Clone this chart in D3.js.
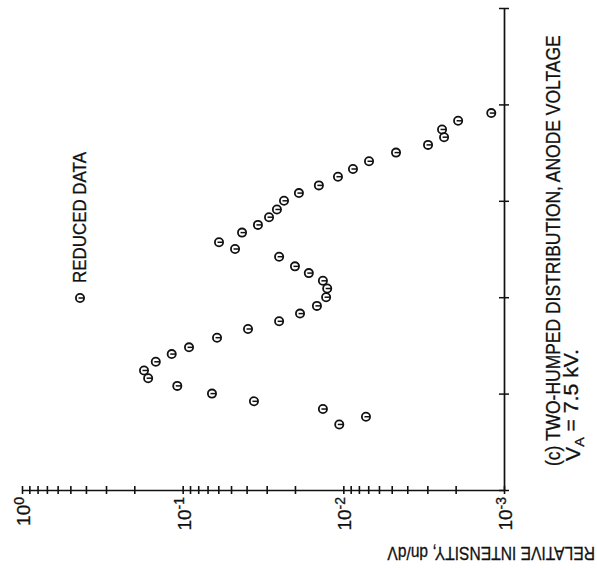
<!DOCTYPE html>
<html>
<head>
<meta charset="utf-8">
<script src="https://cdn.jsdelivr.net/npm/d3@7"></script>
<style>
  html, body { margin: 0; padding: 0; background: #fff; }
  svg { display: block; }
  text { font-family: "Liberation Sans", Arial, sans-serif; fill: #111; stroke: #111; stroke-width: 0.3px; }
</style>
</head>
<body>
<svg id="chart" width="597" height="570"></svg>
<script>
// ---- data ----
// relative intensity dn/dV (log axis) and anode-voltage axis position (unlabelled axis, tick units)
const intensity = [
  1.20e-3, 1.93e-3, 2.43e-3, 2.36e-3, 2.97e-3, 4.70e-3, 6.92e-3, 8.71e-3, 1.08e-2, 1.42e-2,
  1.89e-2, 2.34e-2, 2.59e-2, 2.90e-2, 3.40e-2, 4.27e-2, 5.94e-2, 4.72e-2, 2.51e-2, 2.00e-2,
  1.64e-2, 1.34e-2, 1.26e-2, 1.28e-2, 1.46e-2, 1.86e-2, 2.51e-2, 3.92e-2, 6.11e-2, 9.13e-2,
  0.117, 0.147, 0.174, 0.164, 0.108, 6.57e-2, 3.60e-2, 1.34e-2, 7.23e-3, 1.06e-2
];
const voltage = [
  3.91, 3.83, 3.74, 3.66, 3.58, 3.50, 3.41, 3.33, 3.25, 3.16,
  3.08, 3.00, 2.91, 2.83, 2.75, 2.67, 2.57, 2.50, 2.42, 2.32,
  2.25, 2.17, 2.09, 2.00, 1.91, 1.83, 1.75, 1.67, 1.58, 1.48,
  1.41, 1.33, 1.24, 1.16, 1.08, 1.00, 0.92, 0.84, 0.76, 0.68
];
const decadeTicks = [1, 1e-1, 1e-2, 1e-3];
const decadeExponents = ["0", "-1", "-2", "-3"];
const voltageTicks = [0, 1, 2, 3, 4, 5];
const legendLabel = "REDUCED DATA";
const axisTitle = "RELATIVE INTENSITY, dn/dV";
const captionLine1 = "(c) TWO-HUMPED DISTRIBUTION, ANODE VOLTAGE";

// ---- layout ----
const svg = d3.select("#chart");
const axisY = 490;     // intensity axis (drawn horizontally)
const axisX = 504;     // voltage axis (drawn vertically)
const x = d3.scaleLog().domain([1, 1e-3]).range([22, axisX]);
const v = d3.scaleLinear().domain([0, 5]).range([axisY, 8]);

// all log ticks (major + minor)
const allTicks = [];
for (let e = 0; e > -3; e--) {
  const base = Math.pow(10, e - 1);
  for (let m = 10; m >= 2; m--) allTicks.push(m * base);
}
allTicks.push(1e-3);

// intensity axis
const gx = svg.append("g").attr("transform", `translate(0,${axisY})`)
  .call(d3.axisBottom(x).tickValues(allTicks).tickFormat("").tickSizeOuter(0).tickSizeInner(4));
gx.select(".domain").attr("stroke", "#111").attr("stroke-width", 1.7);
gx.selectAll(".tick line").attr("y1", -4).attr("y2", 4).attr("stroke", "#111").attr("stroke-width", 1.6);

// voltage axis
const gv = svg.append("g").attr("transform", `translate(${axisX},0)`)
  .call(d3.axisRight(v).tickValues(voltageTicks).tickFormat("").tickSizeOuter(0).tickSizeInner(4));
gv.select(".domain").attr("stroke", "#111").attr("stroke-width", 1.7);
gv.selectAll(".tick line").attr("x1", -5).attr("x2", 5).attr("stroke", "#111").attr("stroke-width", 1.5);

// decade labels (rotated, reading bottom-to-top)
decadeTicks.forEach((t, i) => {
  const tx = svg.append("text")
    .attr("transform", `translate(${x(t) + 8},497) rotate(-90)`)
    .attr("text-anchor", "end")
    .style("font-size", "19px");
  tx.append("tspan").text("10");
  tx.append("tspan").attr("dy", "-0.45em").style("font-size", "14px").text(decadeExponents[i]);
});

// helper: squeeze a text along its own direction to a target length
function fitText(sel, base, target) {
  const len = sel.node().getComputedTextLength();
  sel.attr("transform", `${base} scale(${target / len},1)`);
}

// axis title (upside down)
const title = svg.append("text")
  .attr("text-anchor", "start")
  .style("font-size", "19px")
  .text(axisTitle);
fitText(title, "translate(595,547) rotate(180)", 208);

// caption (rotated)
const cap1 = svg.append("text")
  .attr("text-anchor", "start")
  .style("font-size", "19.5px")
  .text(captionLine1);
fitText(cap1, "translate(560,466) rotate(-90)", 431);
const cap2 = svg.append("text")
  .attr("text-anchor", "start")
  .style("font-size", "19.5px");
cap2.append("tspan").text("V");
cap2.append("tspan").attr("dy", "0.3em").style("font-size", "13px").text("A");
cap2.append("tspan").attr("dy", "-0.3em").text(" = 7.5 kV.");
fitText(cap2, "translate(580,461) rotate(-90)", 112);

// marker symbol
function marker(g) {
  g.append("circle").attr("r", 4.1).attr("fill", "none").attr("stroke", "#111").attr("stroke-width", 1.8);
  g.append("line").attr("x1", -1.5).attr("x2", 3.8).attr("y1", 0).attr("y2", 0)
    .attr("stroke", "#111").attr("stroke-width", 1.5);
}

// data points
const pts = intensity.map((d, i) => ({ s: d, va: voltage[i] }));
svg.append("g").selectAll("g.pt").data(pts).join("g")
  .attr("class", "pt")
  .attr("transform", d => `translate(${x(d.s)},${v(d.va)})`)
  .each(function () { marker(d3.select(this)); });

// legend
const lg = svg.append("g").attr("transform", "translate(80,298)");
marker(lg);
const leg = svg.append("text")
  .attr("text-anchor", "start")
  .style("font-size", "19px")
  .text(legendLabel);
fitText(leg, "translate(86,283) rotate(-90)", 131);
</script>
</body>
</html>
